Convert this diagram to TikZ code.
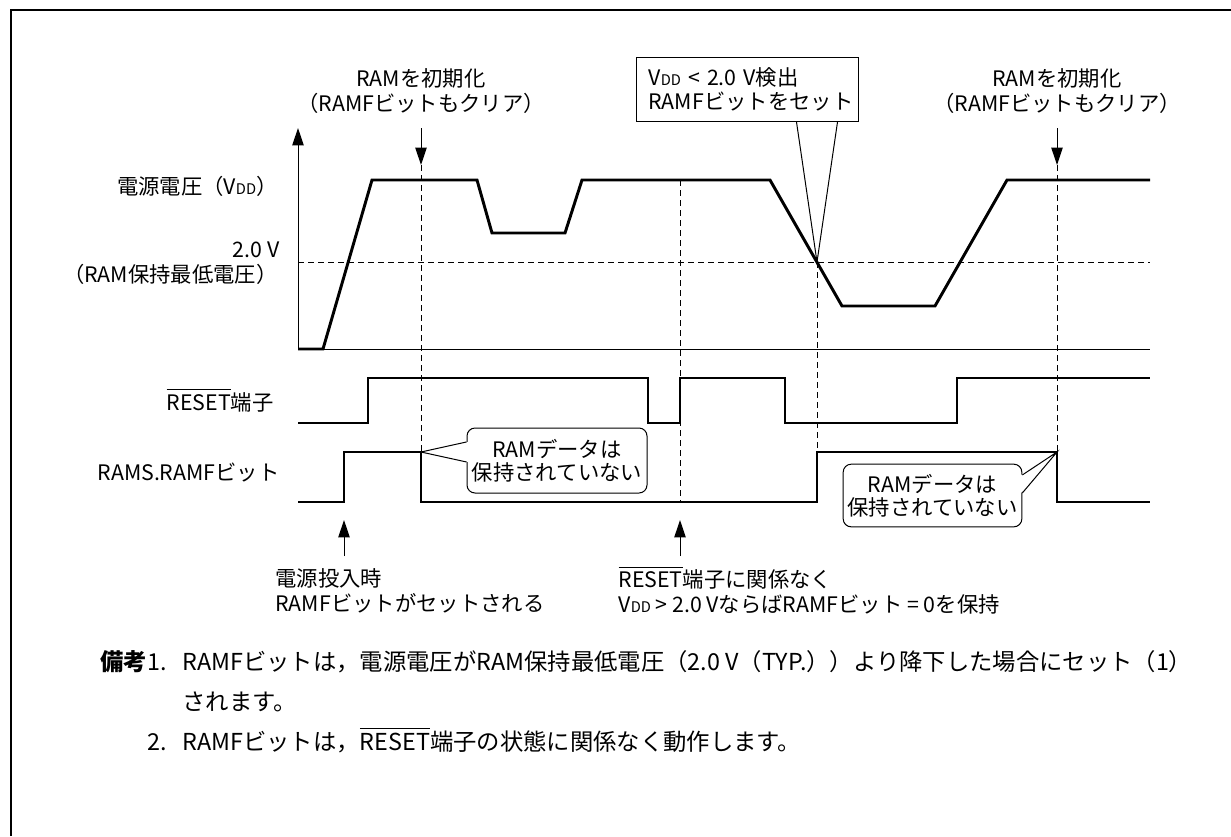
\documentclass[tikz,border=0pt]{standalone}
\usepackage{fontspec}
\setmainfont{Noto Sans CJK JP}
\usetikzlibrary{arrows.meta, positioning, calc}
\newcommand\vdd{V{\fontsize{11}{11}\selectfont DD}}
\newcommand\barred[1]{\setbox0\hbox{#1}\rlap{\rule[\dimexpr\ht0+3pt\relax]{\wd0}{0.6pt}}\box0}
\tikzset{
  every picture/.style={line width=0.75pt},
  frame/.style={line width=2.2pt},
  sig/.style={line width=2.2pt, line join=miter},
  guide/.style={dash pattern=on 4.5pt off 3pt},
  tip/.style={-{Triangle[length=13pt, width=8.5pt]}},
  lbl/.style={font=\fontsize{16}{19}\selectfont, inner sep=0pt},
  bubble/.style={lbl, draw, fill=white, rounded corners=6pt, align=center, font=\fontsize{16}{17.5}\selectfont},
  remark/.style={font=\fontsize{17.5}{20}\selectfont, inner sep=0pt, anchor=base west},
}

\begin{document}
\begin{tikzpicture}[x=0.75pt, y=-0.75pt]
  \useasboundingbox (0,0) rectangle (1231,836);
  \draw[frame] (11,836) -- (11,10) -- (1231,10);
  % axes
  \coordinate (o) at (298,349);
  \coordinate (top) at (298,128);
  \coordinate (xend) at (1150,349);
  \draw[tip] (o) -- (top);
  \draw (o) -- (xend);
  \draw[guide] (298,262) -- (1150,262);
  % waveforms
  \draw[sig] (298,349) -- (323,349) -- (372,180) -- (477,180) -- (492,233) -- (565,233)
    -- (582,180) -- (770,180) -- (842,306) -- (935,306) -- (1007,180) -- (1150,180);
  \draw[sig] (298,423) -- (368,423) -- (368,378) -- (648,378) -- (648,423) -- (680,423)
    -- (680,378) -- (785,378) -- (785,423) -- (957,423) -- (957,378) -- (1150,378);
  \draw[sig] (298,502) -- (344,502) -- (344,452) -- (421,452) -- (421,502) -- (817,502)
    -- (817,452) -- (1057,452) -- (1057,502) -- (1150,502);
  \foreach \x/\a/\b in {421/165/452, 680/180/502, 817/262/452, 1057/165/452}
    \draw[guide] (\x,\a) -- (\x,\b);
  % signal names
  \node[lbl, anchor=base east] (lvdd) at (278,194) {電源電圧（\vdd）};
  \node[lbl, anchor=base east] (lth) at (280,257) {2.0 V};
  \node[lbl, anchor=base east] (lmin) at (278,282) {（RAM保持最低電圧）};
  \node[lbl, anchor=base east] (lrst) at (274,410) {\barred{RESET}端子};
  \node[lbl, anchor=base east] (lramf) at (280,480) {RAMS.RAMFビット};
  % RAM init marks
  \foreach \n/\x in {a/421, b/1057} {
    \node[lbl, align=center] (init\n) at (\x,91) {RAMを初期化\\（RAMFビットもクリア）};
    \coordinate (from\n) at (\x,128);
    \coordinate (hit\n) at (\x,165);
    \draw[tip] (from\n) -- (hit\n);
  }
  % detection callout
  \node[lbl, draw, fill=white, anchor=north west, minimum width=166.5pt, minimum height=48pt,
    text width=148.5pt, align=left, inner xsep=9pt, font=\fontsize{16}{17.5}\selectfont]
    (det) at (636,57) {\vdd\ <\ 2.0 V検出\\RAMFビットをセット};
  \coordinate (cross) at (817,262);
  \draw ([xshift=36.75pt]det.south) -- (cross) -- ([xshift=67.5pt]det.south);
  % data lost bubbles
  \node[bubble, minimum width=135pt, minimum height=48.75pt] (lost1) at (557,460.5) {RAMデータは\\保持されていない};
  \coordinate (pt1) at (421,452);
  \fill[white] ([xshift=1pt, yshift=13.9pt]lost1.west) -- (pt1) -- ([xshift=1pt, yshift=-1.1pt]lost1.west) -- cycle;
  \draw ([yshift=13.9pt]lost1.west) -- (pt1) -- ([yshift=-1.1pt]lost1.west);
  \node[bubble, minimum width=134pt, minimum height=47pt] (lost2) at (932.5,495.5) {RAMデータは\\保持されていない};
  \coordinate (pt2) at (1057,452);
  \fill[white] ([xshift=-1pt, yshift=15.4pt]lost2.east) -- (pt2) -- ([xshift=-1pt, yshift=1.9pt]lost2.east) -- cycle;
  \draw ([yshift=15.4pt]lost2.east) -- (pt2) -- ([yshift=1.9pt]lost2.east);
  % bottom marks
  \coordinate (ponA) at (344,556);
  \coordinate (ponB) at (344,520);
  \draw[tip] (ponA) -- (ponB);
  \node[lbl, anchor=west, align=left] (lpon) at (275,590.5) {電源投入時\\RAMFビットがセットされる};
  \coordinate (keepA) at (680,556);
  \coordinate (keepB) at (680,520);
  \draw[tip] (keepA) -- (keepB);
  \node[lbl, anchor=west, align=left] (lkeep) at (618,590.5) {\barred{RESET}端子に関係なく\\\vdd\ >\ 2.0 VならばRAMFビット = 0を保持};
  % remarks
  \node[remark] (rk1) at (100,670) {\textbf{備考}1.};
  \node[remark] (rt1) at (182,670) {RAMFビットは，電源電圧がRAM保持最低電圧（2.0 V（TYP.））より降下した場合にセット（1）};
  \node[remark] (rt1b) at (182,710) {されます。};
  \node[remark] (rk2) at (147,750) {2.};
  \node[remark] (rt2) at (182,750) {RAMFビットは，\barred{RESET}端子の状態に関係なく動作します。};
\end{tikzpicture}
\end{document}
